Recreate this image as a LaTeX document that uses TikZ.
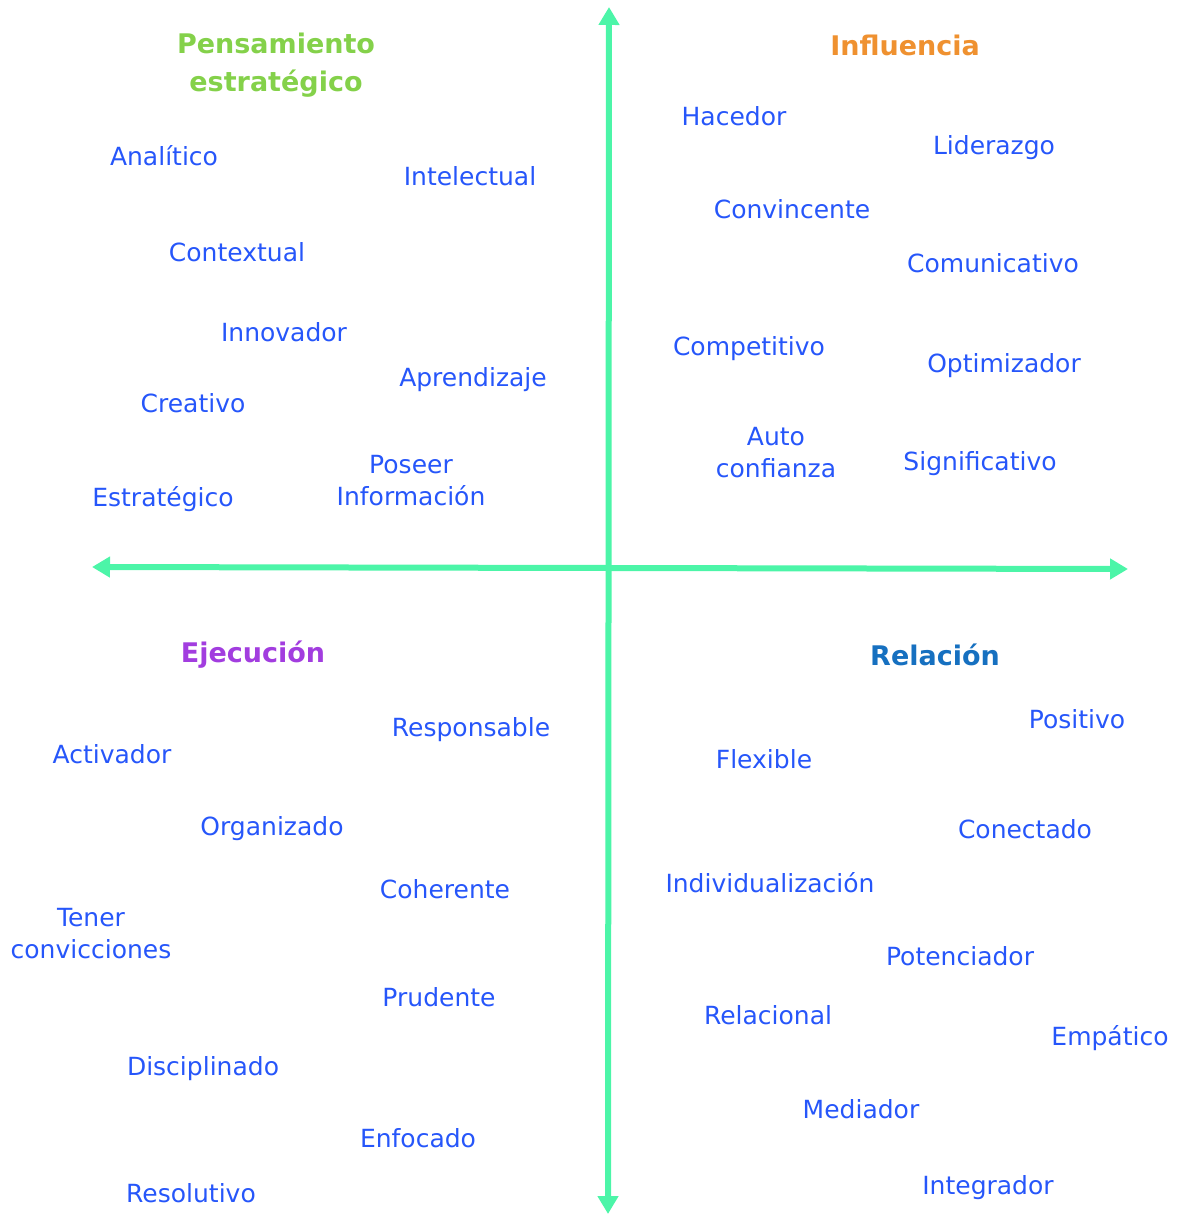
\documentclass[tikz,border=0pt]{standalone}
\usepackage{fontspec}
\setmainfont{DejaVu Sans}
\usepackage{tikz}
\usetikzlibrary{arrows.meta}
\definecolor{eje}{RGB}{76,245,168}
\definecolor{palabra}{RGB}{38,86,250}
\definecolor{verde}{RGB}{132,209,74}
\definecolor{naranja}{RGB}{239,145,48}
\definecolor{morado}{RGB}{162,61,223}
\definecolor{azul}{RGB}{22,112,192}
\tikzset{term/.style={text=palabra,font=\fontsize{25}{32}\selectfont,inner sep=0pt,text height=18pt,text depth=0pt},term2/.style={text=palabra,font=\fontsize{25}{32}\selectfont,inner sep=0pt,align=center},titulo/.style={font=\bfseries\fontsize{27}{38}\selectfont,inner sep=0pt,align=center},axis/.style={{Triangle[length=18pt,width=20pt]}-{Triangle[length=18pt,width=20pt]},line width=6pt,draw=eje}}

\begin{document}
\begin{tikzpicture}[x=1pt,y=-1pt]
\useasboundingbox (0,0) rectangle (1176,1214);
\coordinate (izq) at (92,567);
\coordinate (der) at (1128,569);
\coordinate (arr) at (609,7);
\coordinate (abj) at (608,1214);
\draw[axis] (izq)--(der);
\draw[axis] (arr)--(abj);
% pensamiento estrategico
\node[titulo,text=verde] (pensamiento) at (276,65) {Pensamiento\\estratégico};
\node[term] (analitico) at (164,157) {Analítico};
\node[term] (intelectual) at (470,177) {Intelectual};
\node[term] (contextual) at (237,253) {Contextual};
\node[term] (innovador) at (284,332) {Innovador};
\node[term] (aprendizaje) at (473,377) {Aprendizaje};
\node[term] (creativo) at (193,403) {Creativo};
\node[term2] (poseer) at (411,481) {Poseer\\Información};
\node[term] (estrategico) at (163,497) {Estratégico};
% influencia
\node[titulo,text=naranja] (influencia) at (905,45) {Influencia};
\node[term] (hacedor) at (734,117) {Hacedor};
\node[term] (liderazgo) at (994,146) {Liderazgo};
\node[term] (convincente) at (792,210) {Convincente};
\node[term] (comunicativo) at (993,264) {Comunicativo};
\node[term] (competitivo) at (749,346) {Competitivo};
\node[term] (optimizador) at (1004,363) {Optimizador};
\node[term2] (autoconfianza) at (776,453) {Auto\\confianza};
\node[term] (significativo) at (980,461) {Significativo};
% ejecucion
\node[titulo,text=morado] (ejecucion) at (253,655) {Ejecución};
\node[term] (responsable) at (471,727) {Responsable};
\node[term] (activador) at (112,754) {Activador};
\node[term] (organizado) at (272,826) {Organizado};
\node[term] (coherente) at (445,889) {Coherente};
\node[term2] (convicciones) at (91,934) {Tener\\convicciones};
\node[term] (prudente) at (439,997) {Prudente};
\node[term] (disciplinado) at (203,1066) {Disciplinado};
\node[term] (enfocado) at (418,1138) {Enfocado};
\node[term] (resolutivo) at (191,1193) {Resolutivo};
% relacion
\node[titulo,text=azul] (relacion) at (935,655) {Relación};
\node[term] (positivo) at (1077,719) {Positivo};
\node[term] (flexible) at (764,759) {Flexible};
\node[term] (conectado) at (1025,829) {Conectado};
\node[term] (individualizacion) at (770,883) {Individualización};
\node[term] (potenciador) at (960,956) {Potenciador};
\node[term] (relacional) at (768,1015) {Relacional};
\node[term] (empatico) at (1110,1036) {Empático};
\node[term] (mediador) at (861,1109) {Mediador};
\node[term] (integrador) at (988,1185) {Integrador};
\end{tikzpicture}
\end{document}
